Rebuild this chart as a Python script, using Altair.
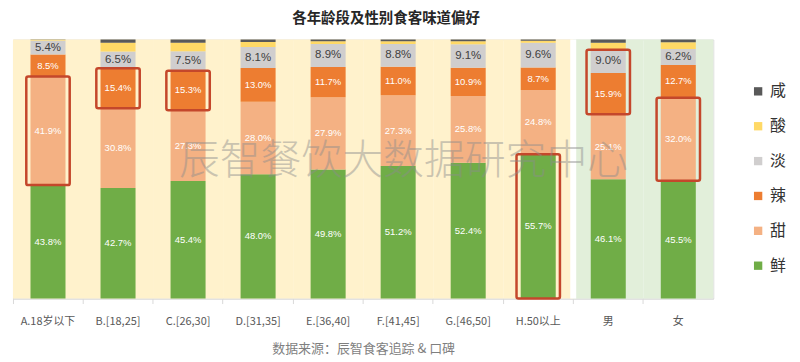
import altair as alt
import pandas as pd

categories = ["A.18岁以下", "B.[18,25]", "C.[26,30]", "D.[31,35]", "E.[36,40]",
              "F.[41,45]", "G.[46,50]", "H.50以上", "男", "女"]
groups = ["age"] * 8 + ["sex"] * 2

flavors = ["鲜", "甜", "辣", "淡", "酸", "咸"]  # bottom -> top
xian = [43.8, 42.7, 45.4, 48.0, 49.8, 51.2, 52.4, 55.7, 46.1, 45.5]
tian = [41.9, 30.8, 27.3, 28.0, 27.9, 27.3, 25.8, 24.8, 25.1, 32.0]
la = [8.5, 15.4, 15.3, 13.0, 11.7, 11.0, 10.9, 8.7, 15.9, 12.7]
dan = [5.4, 6.5, 7.5, 8.1, 8.9, 8.8, 9.1, 9.6, 9.0, 6.2]
suan = [0.3, 3.4, 3.3, 2.0, 1.0, 1.0, 1.1, 0.7, 2.7, 2.6]
xian_salty = [0.1, 1.2, 1.2, 0.9, 0.7, 0.7, 0.7, 0.5, 1.2, 1.0]
series = [xian, tian, la, dan, suan, xian_salty]

legend_order = ["咸", "酸", "淡", "辣", "甜", "鲜"]
legend_colors = ["#595959", "#FFD966", "#D0CECE", "#ED7D31", "#F4B183", "#70AD47"]

# highlighted boxes: (category, from flavor, to flavor)
highlights = [("A.18岁以下", "甜", "甜"), ("B.[18,25]", "辣", "辣"), ("C.[26,30]", "辣", "辣"),
              ("H.50以上", "鲜", "鲜"), ("男", "辣", "淡"), ("女", "甜", "甜")]

title_text = "各年龄段及性别食客味道偏好"
source_text = "数据来源：辰智食客追踪 & 口碑"
watermark = "辰智餐饮大数据研究中心"

rows = []
for i, c in enumerate(categories):
    base = 0.0
    for f, vals in zip(flavors, series):
        v = vals[i]
        rows.append(dict(cat=c, flavor=f, value=v, y0=base, y1=base + v,
                         mid=base + v / 2, label=f"{v:.1f}%"))
        base += v
df = pd.DataFrame(rows)

hl_rows = []
for c, f0, f1 in highlights:
    a = df[(df.cat == c) & (df.flavor == f0)].iloc[0]
    b = df[(df.cat == c) & (df.flavor == f1)].iloc[0]
    hl_rows.append(dict(cat=c, y0=a.y0, y1=b.y1))
hl = pd.DataFrame(hl_rows)

bg = pd.DataFrame({"cat": categories, "grp": groups, "y0": 0, "y1": 100})

FONT = "Noto Sans CJK SC"


def X(**kw):
    return alt.X("cat:N", sort=categories,
                 scale=alt.Scale(domain=categories, paddingInner=0, paddingOuter=0),
                 axis=alt.Axis(labelAngle=0, labelFont=FONT, labelFontSize=11,
                               labelColor="#595959", labelPadding=12, tickSize=5,
                               tickColor="#D9D9D9", domainColor="#D9D9D9",
                               bandPosition=0, titleFont=FONT, titleFontSize=13,
                               titleColor="#7F7F7F", titleFontWeight="normal",
                               titlePadding=16),
                 title=source_text, **kw)


Y = alt.Y("y0:Q", scale=alt.Scale(domain=[0, 100], nice=False, zero=True), axis=None)

bg_age = alt.Chart(bg).transform_filter(alt.datum.grp == "age").mark_bar(
    width=alt.RelativeBandSize(1), color="#FFF2CC").encode(x=X(), y=Y, y2="y1:Q")
bg_sex = alt.Chart(bg).transform_filter(alt.datum.grp == "sex").mark_bar(
    width=alt.RelativeBandSize(1), color="#E2EFDA").encode(x=X(), y=Y, y2="y1:Q")

divider = alt.Chart(pd.DataFrame({"cat": ["男"]})).mark_rule(
    color="white", strokeWidth=6).encode(x=X(bandPosition=0), y=alt.value(0), y2=alt.value(260))

bars = alt.Chart(df).mark_bar(width=alt.RelativeBandSize(0.5)).encode(
    x=X(), y=Y, y2="y1:Q",
    color=alt.Color("flavor:N", scale=alt.Scale(domain=legend_order, range=legend_colors),
                    legend=alt.Legend(title=None, orient="none", legendX=740, legendY=44,
                                      symbolType="square", symbolSize=70, symbolStrokeWidth=0,
                                      labelFont=FONT, labelFontSize=16, labelColor="#333333",
                                      rowPadding=19, labelOffset=4)))

white_labels = alt.Chart(df).transform_filter(
    alt.FieldOneOfPredicate(field="flavor", oneOf=["鲜", "甜", "辣"])).mark_text(
    color="white", fontSize=9.5, font="Liberation Sans").encode(
    x=X(), y=alt.Y("mid:Q", scale=alt.Scale(domain=[0, 100], nice=False), axis=None), text="label:N")

dark_labels = alt.Chart(df).transform_filter(alt.datum.flavor == "淡").mark_text(
    color="#404040", fontSize=11.5, font="Liberation Sans").encode(
    x=X(), y=alt.Y("mid:Q", scale=alt.Scale(domain=[0, 100], nice=False), axis=None), text="label:N")

boxes = alt.Chart(hl).mark_bar(width=alt.RelativeBandSize(0.62), fillOpacity=0,
                               stroke="#C4472B", strokeWidth=2.5, cornerRadius=2).encode(
    x=X(), y=Y, y2="y1:Q")

wm = alt.Chart(pd.DataFrame({"t": [watermark]})).mark_text(
    font=FONT, fontSize=41, fontWeight=300, color="#8C8C8C", opacity=0.45).encode(
    x=alt.value(392), y=alt.value(123), text="t:N")

chart = alt.layer(bg_age, bg_sex, divider, bars, white_labels, dark_labels, boxes, wm).properties(
    width=703, height=260,
    title=alt.TitleParams(title_text, font=FONT, fontSize=14.5, fontWeight="bold",
                          color="#262626", anchor="middle", dx=23, offset=10),
    padding={"left": 4, "top": 2, "right": 5, "bottom": 5},
).configure_view(stroke=None).configure(background="white")

chart.save("out.html", embed_options={"renderer": "svg", "actions": False})
